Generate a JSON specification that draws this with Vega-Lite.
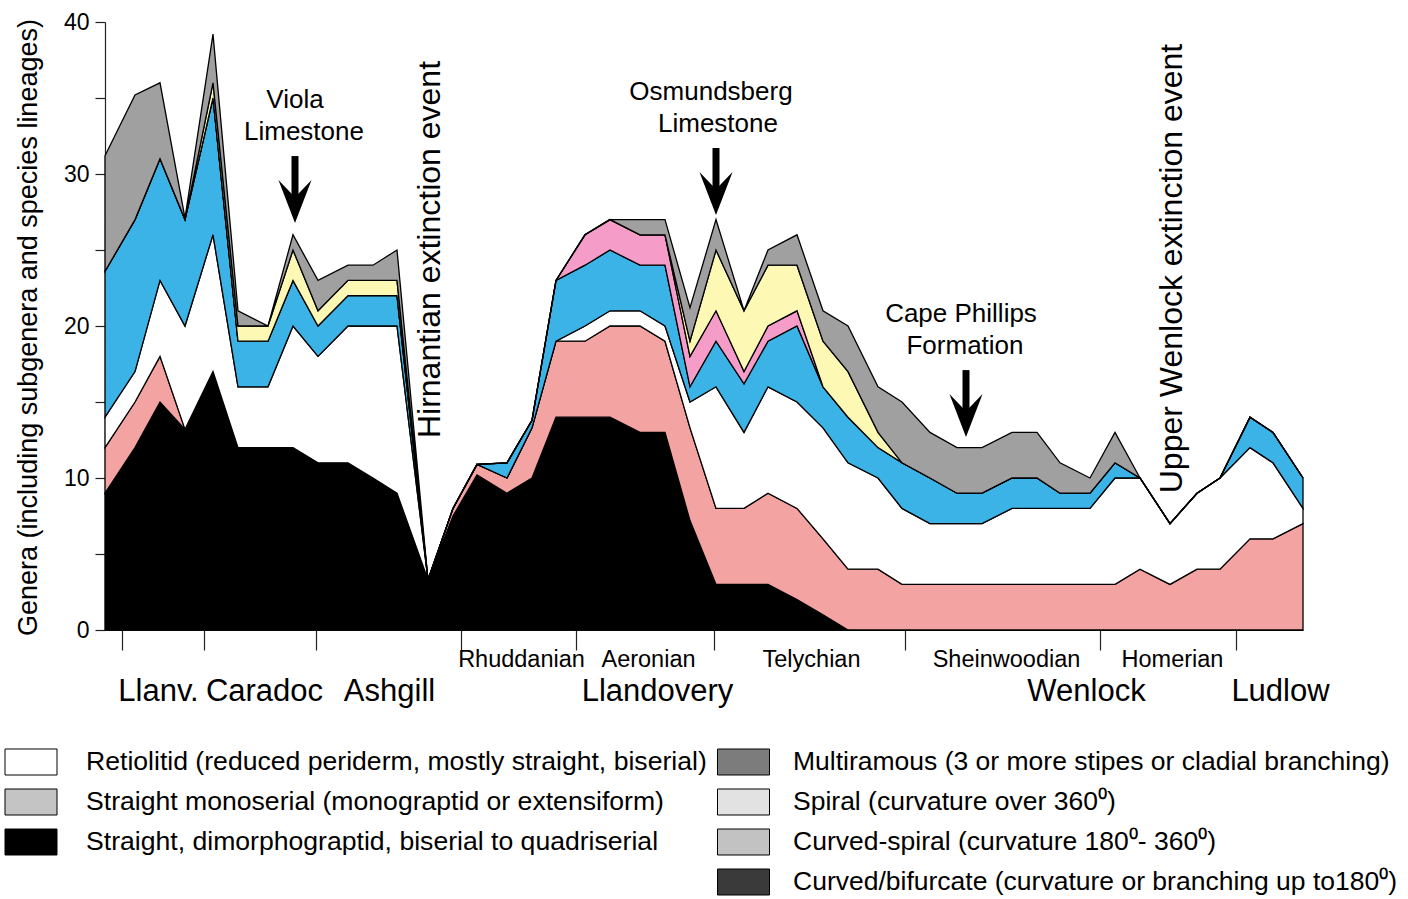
{
  "$schema": "https://vega.github.io/schema/vega-lite/v6.json",
  "width": 1198,
  "height": 608,
  "autosize": "none",
  "padding": {"left": 105, "top": 22, "right": 105, "bottom": 269},
  "background": "white",
  "config": {
    "view": {"stroke": null},
    "font": "Liberation Sans",
    "axis": {"grid": false, "labelFont": "Liberation Sans", "titleFont": "Liberation Sans", "labelColor": "black", "titleColor": "black", "domainColor": "#222", "tickColor": "#222", "domainWidth": 1.2, "tickWidth": 1.2},
    "legend": {"labelFont": "Liberation Sans", "labelColor": "black", "labelLimit": 0, "padding": 0, "title": null}
  },
  "datasets": {
    "g": [
      {"pos": 105, "bis": 9, "mono": 12, "ret": 14, "bif": 23.6, "csp": 23.6, "spi": 23.6, "mul": 31.2},
      {"pos": 135, "bis": 12, "mono": 15, "ret": 17, "bif": 27, "csp": 27, "spi": 27, "mul": 35.2},
      {"pos": 160, "bis": 15, "mono": 18, "ret": 23, "bif": 31, "csp": 31, "spi": 31, "mul": 36},
      {"pos": 185, "bis": 13.2, "mono": 13.2, "ret": 20, "bif": 27, "csp": 27, "spi": 27, "mul": 27.1},
      {"pos": 213, "bis": 17, "mono": 17, "ret": 26, "bif": 35, "csp": 35, "spi": 36, "mul": 39.2},
      {"pos": 238, "bis": 12, "mono": 12, "ret": 16, "bif": 19, "csp": 19, "spi": 20, "mul": 21},
      {"pos": 268, "bis": 12, "mono": 12, "ret": 16, "bif": 19, "csp": 19, "spi": 20, "mul": 20},
      {"pos": 293, "bis": 12, "mono": 12, "ret": 20, "bif": 23, "csp": 23, "spi": 25, "mul": 26},
      {"pos": 318, "bis": 11, "mono": 11, "ret": 18, "bif": 20, "csp": 20, "spi": 21, "mul": 23},
      {"pos": 348, "bis": 11, "mono": 11, "ret": 20, "bif": 22, "csp": 22, "spi": 23, "mul": 24},
      {"pos": 373, "bis": 10, "mono": 10, "ret": 20, "bif": 22, "csp": 22, "spi": 23, "mul": 24},
      {"pos": 397, "bis": 9, "mono": 9, "ret": 20, "bif": 22, "csp": 22, "spi": 23, "mul": 25},
      {"pos": 428, "bis": 3.3, "mono": 3.3, "ret": 3.3, "bif": 3.3, "csp": 3.3, "spi": 3.3, "mul": 3.3},
      {"pos": 453, "bis": 7.5, "mono": 8, "ret": 8, "bif": 8, "csp": 8, "spi": 8, "mul": 8},
      {"pos": 477, "bis": 10.2, "mono": 10.9, "ret": 10.9, "bif": 10.9, "csp": 10.9, "spi": 10.9, "mul": 10.9},
      {"pos": 507, "bis": 9, "mono": 10, "ret": 10, "bif": 11, "csp": 11, "spi": 11, "mul": 11},
      {"pos": 532, "bis": 10, "mono": 13.3, "ret": 13.3, "bif": 13.8, "csp": 13.8, "spi": 13.8, "mul": 13.8},
      {"pos": 556, "bis": 14, "mono": 19, "ret": 19, "bif": 23, "csp": 23, "spi": 23, "mul": 23},
      {"pos": 585, "bis": 14, "mono": 19, "ret": 20, "bif": 24, "csp": 26, "spi": 26, "mul": 26},
      {"pos": 610, "bis": 14, "mono": 20, "ret": 21, "bif": 25, "csp": 27, "spi": 27, "mul": 27},
      {"pos": 640, "bis": 13, "mono": 20, "ret": 21, "bif": 24, "csp": 26, "spi": 26, "mul": 27},
      {"pos": 665, "bis": 13, "mono": 19, "ret": 20, "bif": 24, "csp": 26, "spi": 26, "mul": 27},
      {"pos": 690, "bis": 7.2, "mono": 13.3, "ret": 15, "bif": 16, "csp": 18, "spi": 19, "mul": 21.2},
      {"pos": 716, "bis": 3, "mono": 8, "ret": 16, "bif": 19, "csp": 21, "spi": 25, "mul": 27},
      {"pos": 744, "bis": 3, "mono": 8, "ret": 13, "bif": 16.2, "csp": 17, "spi": 21, "mul": 21},
      {"pos": 768, "bis": 3, "mono": 9, "ret": 16, "bif": 19, "csp": 20, "spi": 24, "mul": 25},
      {"pos": 797, "bis": 2, "mono": 8, "ret": 15, "bif": 20, "csp": 21, "spi": 24, "mul": 26},
      {"pos": 823, "bis": 1, "mono": 6, "ret": 13.3, "bif": 16, "csp": 16, "spi": 19, "mul": 21},
      {"pos": 848, "bis": 0, "mono": 4, "ret": 11, "bif": 14, "csp": 14, "spi": 17, "mul": 20},
      {"pos": 878, "bis": 0, "mono": 4, "ret": 10, "bif": 12, "csp": 12, "spi": 13, "mul": 16},
      {"pos": 902, "bis": 0, "mono": 3, "ret": 8, "bif": 11, "csp": 11, "spi": 11, "mul": 15},
      {"pos": 930, "bis": 0, "mono": 3, "ret": 7, "bif": 10, "csp": 10, "spi": 10, "mul": 13},
      {"pos": 957, "bis": 0, "mono": 3, "ret": 7, "bif": 9, "csp": 9, "spi": 9, "mul": 12},
      {"pos": 982, "bis": 0, "mono": 3, "ret": 7, "bif": 9, "csp": 9, "spi": 9, "mul": 12},
      {"pos": 1012, "bis": 0, "mono": 3, "ret": 8, "bif": 10, "csp": 10, "spi": 10, "mul": 13},
      {"pos": 1037, "bis": 0, "mono": 3, "ret": 8, "bif": 10, "csp": 10, "spi": 10, "mul": 13},
      {"pos": 1060, "bis": 0, "mono": 3, "ret": 8, "bif": 9, "csp": 9, "spi": 9, "mul": 11},
      {"pos": 1090, "bis": 0, "mono": 3, "ret": 8, "bif": 9, "csp": 9, "spi": 9, "mul": 10},
      {"pos": 1115, "bis": 0, "mono": 3, "ret": 10, "bif": 11, "csp": 11, "spi": 11, "mul": 13},
      {"pos": 1140, "bis": 0, "mono": 4, "ret": 10, "bif": 10, "csp": 10, "spi": 10, "mul": 10},
      {"pos": 1170, "bis": 0, "mono": 3, "ret": 7, "bif": 7, "csp": 7, "spi": 7, "mul": 7},
      {"pos": 1197, "bis": 0, "mono": 4, "ret": 9, "bif": 9, "csp": 9, "spi": 9, "mul": 9},
      {"pos": 1220, "bis": 0, "mono": 4, "ret": 10, "bif": 10, "csp": 10, "spi": 10, "mul": 10},
      {"pos": 1250, "bis": 0, "mono": 6, "ret": 12, "bif": 14, "csp": 14, "spi": 14, "mul": 14},
      {"pos": 1273, "bis": 0, "mono": 6, "ret": 11, "bif": 13, "csp": 13, "spi": 13, "mul": 13},
      {"pos": 1303, "bis": 0, "mono": 7, "ret": 8, "bif": 10, "csp": 10, "spi": 10, "mul": 10}
    ]
  },
  "layer": [
    {
      "data": {"name": "g"},
      "layer": [
        {
          "mark": {"type": "area", "stroke": "black", "strokeWidth": 1.3, "interpolate": "linear"},
          "encoding": {
            "x": {
              "field": "pos", "type": "quantitative",
              "scale": {"domain": [105, 1303], "nice": false, "zero": false},
              "axis": {
                "title": null,
                "values": [122, 204, 316, 461, 576, 714, 905, 1100, 1236, 521, 648, 811, 1006, 1172, 158, 264, 389, 657, 1086, 1280],
                "tickSize": 20,
                "tickOpacity": {"condition": {"test": "indexof([122,204,316,461,576,714,905,1100,1236], datum.value) >= 0", "value": 1}, "value": 0},
                "labelExpr": "datum.value == 521 ? 'Rhuddanian' : datum.value == 648 ? 'Aeronian' : datum.value == 811 ? 'Telychian' : datum.value == 1006 ? 'Sheinwoodian' : datum.value == 1172 ? 'Homerian' : datum.value == 158 ? 'Llanv.' : datum.value == 264 ? 'Caradoc' : datum.value == 389 ? 'Ashgill' : datum.value == 657 ? 'Llandovery' : datum.value == 1086 ? 'Wenlock' : datum.value == 1280 ? 'Ludlow' : ''",
                "labelFontSize": {"condition": {"test": "indexof([158,264,389,657,1086,1280], datum.value) >= 0", "value": 31}, "value": 23.5},
                "labelPadding": {"condition": {"test": "indexof([158,264,389,657,1086,1280], datum.value) >= 0", "value": 26}, "value": -3},
                "labelOverlap": false,
                "labelFlush": false,
                "labelBound": false,
                "labelAlign": "center",
                "labelBaseline": "top"
              }
            },
            "y": {
              "field": "bis", "type": "quantitative",
              "scale": {"domain": [0, 40], "nice": false, "zero": true},
              "axis": {
                "values": [0, 5, 10, 15, 20, 25, 30, 35, 40],
                "labelExpr": "datum.value % 10 == 0 ? datum.label : ''",
                "tickSize": 10,
                "labelPadding": 6,
                "labelFontSize": 23,
                "title": "Genera (including subgenera and species lineages)",
                "titleFontSize": 27,
                "titleFontWeight": "normal",
                "titleAngle": 270,
                "titleX": -77,
                "titleY": 305,
                "titleAlign": "center",
                "titleBaseline": "middle"
              }
            },
            "y2": {"datum": 0},
            "fill": {
              "datum": "biserial", "type": "nominal",
              "scale": {"domain": ["retiolitid", "monoserial", "biserial"], "range": ["#ffffff", "#f4a3a3", "#000000"]},
              "legend": null
            }
          }
        },
        {
          "mark": {"type": "area", "stroke": "black", "strokeWidth": 1.3, "interpolate": "linear"},
          "encoding": {
            "x": {"field": "pos", "type": "quantitative"},
            "y": {"field": "mono", "type": "quantitative"},
            "y2": {"field": "bis"},
            "fill": {"datum": "monoserial", "type": "nominal", "scale": {"domain": ["retiolitid", "monoserial", "biserial"], "range": ["#ffffff", "#f4a3a3", "#000000"]}, "legend": null}
          }
        },
        {
          "mark": {"type": "area", "stroke": "black", "strokeWidth": 1.3, "interpolate": "linear"},
          "encoding": {
            "x": {"field": "pos", "type": "quantitative"},
            "y": {"field": "ret", "type": "quantitative"},
            "y2": {"field": "mono"},
            "fill": {"datum": "retiolitid", "type": "nominal", "scale": {"domain": ["retiolitid", "monoserial", "biserial"], "range": ["#ffffff", "#f4a3a3", "#000000"]}, "legend": null}
          }
        }
      ]
    },
    {
      "data": {"name": "g"},
      "layer": [
        {
          "mark": {"type": "area", "stroke": "black", "strokeWidth": 1.3, "interpolate": "linear"},
          "encoding": {
            "x": {"field": "pos", "type": "quantitative"},
            "y": {"field": "bif", "type": "quantitative"},
            "y2": {"field": "ret"},
            "fill": {"datum": "bifurcate", "type": "nominal", "scale": {"domain": ["multiramous", "spiral", "curvedspiral", "bifurcate"], "range": ["#a0a0a0", "#fdf9b4", "#f59cc8", "#3cb3e6"]}, "legend": null}
          }
        },
        {
          "mark": {"type": "area", "stroke": "black", "strokeWidth": 1.3, "interpolate": "linear"},
          "encoding": {
            "x": {"field": "pos", "type": "quantitative"},
            "y": {"field": "csp", "type": "quantitative"},
            "y2": {"field": "bif"},
            "fill": {"datum": "curvedspiral", "type": "nominal", "scale": {"domain": ["multiramous", "spiral", "curvedspiral", "bifurcate"], "range": ["#a0a0a0", "#fdf9b4", "#f59cc8", "#3cb3e6"]}, "legend": null}
          }
        },
        {
          "mark": {"type": "area", "stroke": "black", "strokeWidth": 1.3, "interpolate": "linear"},
          "encoding": {
            "x": {"field": "pos", "type": "quantitative"},
            "y": {"field": "spi", "type": "quantitative"},
            "y2": {"field": "csp"},
            "fill": {"datum": "spiral", "type": "nominal", "scale": {"domain": ["multiramous", "spiral", "curvedspiral", "bifurcate"], "range": ["#a0a0a0", "#fdf9b4", "#f59cc8", "#3cb3e6"]}, "legend": null}
          }
        },
        {
          "mark": {"type": "area", "stroke": "black", "strokeWidth": 1.3, "interpolate": "linear"},
          "encoding": {
            "x": {"field": "pos", "type": "quantitative"},
            "y": {"field": "mul", "type": "quantitative"},
            "y2": {"field": "spi"},
            "fill": {"datum": "multiramous", "type": "nominal", "scale": {"domain": ["multiramous", "spiral", "curvedspiral", "bifurcate"], "range": ["#a0a0a0", "#fdf9b4", "#f59cc8", "#3cb3e6"]}, "legend": null}
          }
        }
      ]
    },
    {
      "data": {"values": [{"k": "retiolitid"}, {"k": "monoserial"}, {"k": "biserial"}]},
      "mark": {"type": "point", "filled": true, "opacity": 0},
      "encoding": {
        "fill": {
          "field": "k", "type": "nominal",
          "scale": {"domain": ["retiolitid", "monoserial", "biserial"], "range": ["#ffffff", "#c4c4c4", "#000000"]},
          "legend": {
            "orient": "none",
            "legendX": -87.5,
            "legendY": 726.5,
            "direction": "vertical",
            "symbolType": "M-2,-1H2V1H-2Z",
            "symbolSize": 676,
            "symbolOpacity": 1,
            "symbolStrokeColor": "black",
            "symbolStrokeWidth": 1,
            "labelFontSize": 26.6,
            "labelOffset": 41.5,
            "rowPadding": 9,
            "labelExpr": "datum.value == 'retiolitid' ? 'Retiolitid (reduced periderm, mostly straight, biserial)' : datum.value == 'monoserial' ? 'Straight monoserial (monograptid or extensiform)' : 'Straight, dimorphograptid, biserial to quadriserial'"
          }
        }
      }
    },
    {
      "data": {"values": [{"k": "multiramous"}, {"k": "spiral"}, {"k": "curvedspiral"}, {"k": "bifurcate"}]},
      "mark": {"type": "point", "filled": true, "opacity": 0},
      "encoding": {
        "fill": {
          "field": "k", "type": "nominal",
          "scale": {"domain": ["multiramous", "spiral", "curvedspiral", "bifurcate"], "range": ["#7c7c7c", "#e2e2e2", "#c2c2c2", "#3a3a3a"]},
          "legend": {
            "orient": "none",
            "legendX": 625,
            "legendY": 726.5,
            "direction": "vertical",
            "symbolType": "M-2,-1H2V1H-2Z",
            "symbolSize": 676,
            "symbolOpacity": 1,
            "symbolStrokeColor": "black",
            "symbolStrokeWidth": 1,
            "labelFontSize": 26.5,
            "labelOffset": 36,
            "rowPadding": 9,
            "labelExpr": "datum.value == 'multiramous' ? 'Multiramous (3 or more stipes or cladial branching)' : datum.value == 'spiral' ? 'Spiral (curvature over 360⁰)' : datum.value == 'curvedspiral' ? 'Curved-spiral (curvature 180⁰- 360⁰)' : 'Curved/bifurcate (curvature or branching up to180⁰)'"
          }
        }
      }
    },
    {
      "data": {"values": [
        {"t": "Viola", "pos": 295, "v": 34.87},
        {"t": "Limestone", "pos": 304, "v": 32.76},
        {"t": "Osmundsberg", "pos": 711, "v": 35.39},
        {"t": "Limestone", "pos": 718, "v": 33.29},
        {"t": "Cape Phillips", "pos": 961, "v": 20.79},
        {"t": "Formation", "pos": 965, "v": 18.68}
      ]},
      "mark": {"type": "text", "fontSize": 26, "align": "center", "baseline": "middle", "color": "black"},
      "encoding": {
        "x": {"field": "pos", "type": "quantitative"},
        "y": {"field": "v", "type": "quantitative"},
        "text": {"field": "t"}
      }
    },
    {
      "data": {"values": [
        {"t": "Hirnantian extinction event", "pos": 430, "v": 25.03},
        {"t": "Upper Wenlock extinction event", "pos": 1172, "v": 23.78}
      ]},
      "mark": {"type": "text", "fontSize": 32, "align": "center", "baseline": "middle", "angle": 270, "color": "black"},
      "encoding": {
        "x": {"field": "pos", "type": "quantitative"},
        "y": {"field": "v", "type": "quantitative"},
        "text": {"field": "t"}
      }
    },
    {
      "data": {"values": [
        {"pos": 295, "top": 31.18, "mid": 28.19},
        {"pos": 716, "top": 31.71, "mid": 28.72},
        {"pos": 966, "top": 17.1, "mid": 14.11}
      ]},
      "layer": [
        {
          "mark": {"type": "rule", "strokeWidth": 7, "color": "black"},
          "encoding": {
            "x": {"field": "pos", "type": "quantitative"},
            "y": {"field": "top", "type": "quantitative"},
            "y2": {"field": "mid"}
          }
        },
        {
          "mark": {"type": "point", "shape": "M0,1L-0.77,-1L0,-0.2L0.77,-1Z", "size": 1849, "filled": true, "color": "black", "opacity": 1, "strokeWidth": 0},
          "encoding": {
            "x": {"field": "pos", "type": "quantitative"},
            "y": {"field": "mid", "type": "quantitative"}
          }
        }
      ]
    }
  ],
  "resolve": {"scale": {"fill": "independent"}, "legend": {"fill": "independent"}}
}
